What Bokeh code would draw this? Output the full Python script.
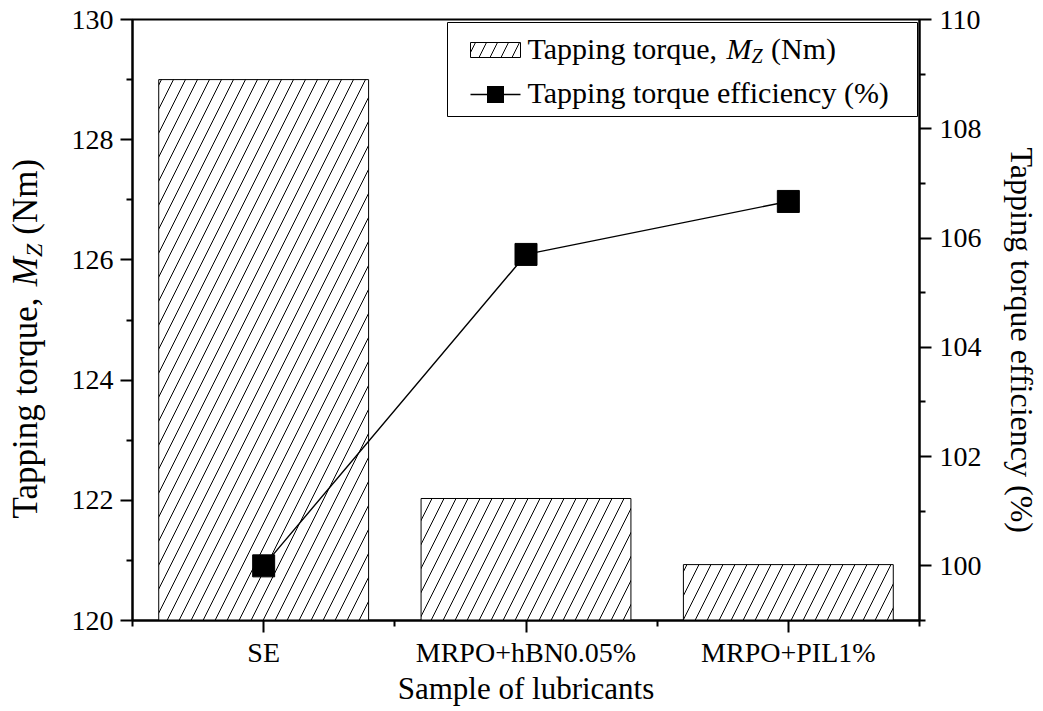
from bokeh.plotting import figure
from bokeh.layouts import row
from bokeh.models import (Range1d, LinearAxis, FixedTicker, Label, BoxAnnotation)
from bokeh.core.properties import value
from bokeh.embed import file_html
from bokeh.resources import INLINE

# ---- data ----
categories = ["SE", "MRPO+hBN0.05%", "MRPO+PIL1%"]
positions = [1, 2, 3]
torque = [129.0, 122.03, 120.93]          # Nm (left axis)
efficiency = [100.0, 105.7, 106.67]       # % (right axis)
left_ticks = [120, 122, 124, 126, 128, 130]
left_minor = [121, 123, 125, 127, 129]
right_ticks = [100, 102, 104, 106, 108, 110]
right_minor = [99, 101, 103, 105, 107, 109]
left_title = ["Tapping torque, ", "M", "Z", "(Nm)"]
right_title = "Tapping torque efficiency (%)"

FONT = "Liberation Serif"
TICK_FS = "28px"
LEG_FS = "30px"

H = 708          # canvas height
TOP = 19
BOTTOM = 88
FRAME_H = H - TOP - BOTTOM
SIDE_W = 50      # strip holding the left axis title
RSIDE_W = 56     # strip holding the right axis title
MAIN_W = 82 + 788 + 64

p = figure(width=MAIN_W, height=H, output_backend="svg", toolbar_location=None,
           x_range=Range1d(0.5, 3.5), y_range=Range1d(120, 130),
           min_border_left=132 - SIDE_W, min_border_right=64, min_border_top=TOP,
           min_border_bottom=BOTTOM)
p.extra_y_ranges = {"eff": Range1d(99, 110)}
p.xgrid.visible = False
p.ygrid.visible = False
p.outline_line_color = "black"
p.outline_line_width = 2
p.background_fill_color = "white"
p.border_fill_color = "white"


def style_axis(ax):
    ax.axis_line_width = 2
    ax.axis_line_color = "black"
    ax.major_tick_line_width = 2
    ax.minor_tick_line_width = 2
    ax.major_tick_out = 12
    ax.major_tick_in = 0
    ax.minor_tick_out = 6
    ax.minor_tick_in = 0
    ax.major_label_text_font = FONT
    ax.major_label_text_font_size = TICK_FS
    ax.major_label_text_color = "black"
    ax.axis_label_text_font = FONT
    ax.axis_label_text_font_size = "31px"
    ax.axis_label_text_font_style = "normal"
    ax.axis_label_text_color = "black"


# x axis
xa = p.xaxis[0]
style_axis(xa)
xa.ticker = FixedTicker(ticks=positions, minor_ticks=[0.5, 1.5, 2.5, 3.5])
xa.major_label_overrides = {pos: c for pos, c in zip(positions, categories)}
xa.axis_label = "Sample of lubricants"
xa.major_label_standoff = 4
xa.axis_label_standoff = 0

# left axis
ya = p.yaxis[0]
style_axis(ya)
ya.ticker = FixedTicker(ticks=left_ticks, minor_ticks=left_minor)
ya.major_label_standoff = 7

# right axis (title drawn in its own strip)
ra = LinearAxis(y_range_name="eff")
style_axis(ra)
ra.ticker = FixedTicker(ticks=right_ticks, minor_ticks=right_minor)
ra.major_label_standoff = 8
p.add_layout(ra, "right")

# bars
p.vbar(x=positions, top=torque, bottom=120, width=0.8,
       fill_color="white", line_color="black", line_width=1,
       hatch_pattern="/", hatch_color="black", hatch_weight=1, hatch_scale=24)

# efficiency line
p.line(x=positions, y=efficiency, y_range_name="eff", line_color="black", line_width=1.4)
p.scatter(x=positions, y=efficiency, y_range_name="eff", marker="square", size=22,
          fill_color="black", line_color="black")


# ---- legend (manual, screen units relative to the plot frame) ----
def lab(text, x, y, size, style="normal"):
    p.add_layout(Label(text=text, x=x, y=y, x_units="screen", y_units="screen",
                       text_font=FONT, text_font_size=size,
                       text_font_style=style, text_color="black",
                       text_align="left", text_baseline="alphabetic"))


def box(l, r, b, t, **kw):
    p.add_layout(BoxAnnotation(left=l, right=r, bottom=b, top=t,
                               left_units="screen", right_units="screen",
                               top_units="screen", bottom_units="screen", **kw))


box(315, 785, 504, 598, fill_color="white", fill_alpha=1.0,
    line_color="black", line_width=1, line_alpha=1.0)
box(338, 388, 563, 578, fill_color="white", fill_alpha=1.0,
    line_color="black", line_width=1, line_alpha=1.0,
    hatch_pattern="/", hatch_color="black", hatch_weight=1, hatch_scale=22)
box(338, 388, 525.25, 526.75, fill_color="black", fill_alpha=1.0, line_alpha=0)
box(354.5, 371.5, 517.5, 534.5, fill_color="black", fill_alpha=1.0, line_alpha=0)

tx = 395
r1 = 572
r2 = 528
lab(left_title[0], tx, r1, LEG_FS)
lab(left_title[1], tx + 199.1, r1, LEG_FS, "italic")
lab(left_title[2], tx + 224.1, r1 - 7, "20px", "italic")
lab(left_title[3], tx + 243.5, r1, LEG_FS)
lab(right_title, tx, r2, LEG_FS)

ANG = 1.5707963267948966


def strip(width):
    s = figure(width=width, height=H, output_backend="svg", toolbar_location=None,
               x_range=Range1d(0, width), y_range=Range1d(0, FRAME_H),
               min_border_left=0, min_border_right=0, min_border_top=TOP,
               min_border_bottom=BOTTOM, x_axis_type=None, y_axis_type=None)
    s.outline_line_color = None
    s.xgrid.visible = False
    s.ygrid.visible = False
    s.background_fill_color = "white"
    s.border_fill_color = "white"
    return s


def stext(fig, x, y, t, size, style="normal", angle=ANG):
    fig.text(x=[x], y=[y], text=[t], angle=angle,
             text_font=value(FONT), text_font_size=size, text_font_style=style,
             text_color="black", text_align="left", text_baseline="alphabetic")


# ---- left axis title: composed rich text (reads bottom to top) ----
side = strip(SIDE_W)
LF = 35
bx = 25
y0 = 620 - 518
w1 = 6638 * LF / 1000
w2 = 833 * LF / 1000
w3 = 556 * 0.7 * LF / 1000 + 250 * LF / 1000
stext(side, bx, y0, left_title[0], f"{LF}px")
stext(side, bx, y0 + w1, left_title[1], f"{LF}px", "italic")
stext(side, bx + 8, y0 + w1 + w2, left_title[2], f"{round(LF * 0.7)}px", "italic")
stext(side, bx, y0 + w1 + w2 + w3, left_title[3], f"{LF}px")

# ---- right axis title (reads top to bottom) ----
rside = strip(RSIDE_W)
stext(rside, 37, 620 - 147, right_title, "32px", angle=-ANG)

layout = row(side, p, rside, spacing=0)
open("out.html", "w").write(file_html(layout, INLINE))
